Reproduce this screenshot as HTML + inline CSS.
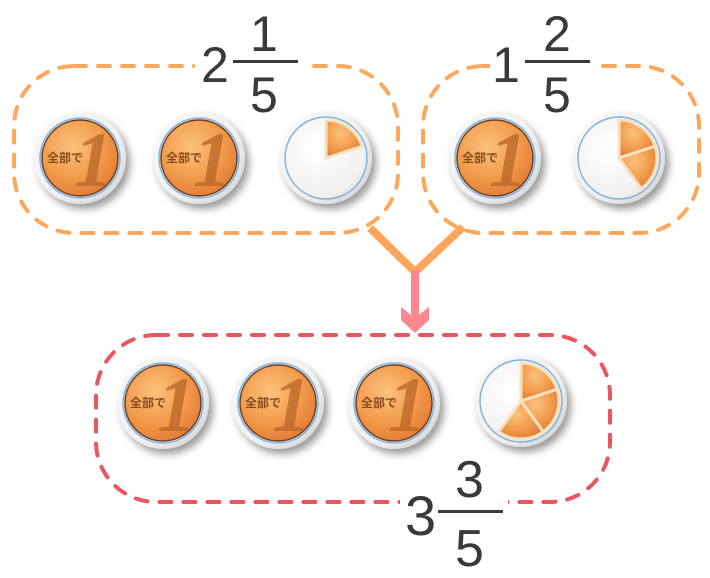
<!DOCTYPE html>
<html><head><meta charset="utf-8"><style>
html,body{margin:0;padding:0;background:#fff;}
svg{display:block;}
.n{font-family:"Liberation Sans","DejaVu Sans",sans-serif;fill:#3a3a3a;font-size:50px;}
.k{font-family:"Liberation Sans","Noto Sans CJK JP",sans-serif;fill:#8a4a1e;font-size:12px;font-weight:bold;}
.b{font-family:"Liberation Serif",serif;font-style:italic;font-weight:bold;fill:#b8662a;font-size:78px;opacity:.75;}
</style></head><body>
<svg width="710" height="578" viewBox="0 0 710 578" xmlns="http://www.w3.org/2000/svg">
<defs>
<radialGradient id="og" cx="40%" cy="35%" r="70%"><stop offset="0" stop-color="#fbc27e"/><stop offset=".6" stop-color="#f29a4a"/><stop offset="1" stop-color="#e07a34"/></radialGradient>
<radialGradient id="pg" cx="40%" cy="40%" r="65%"><stop offset="0" stop-color="#fff"/><stop offset=".8" stop-color="#f1f1f1"/><stop offset="1" stop-color="#d5d5d5"/></radialGradient>
<filter id="sh" x="-30%" y="-30%" width="170%" height="170%"><feDropShadow dx="4" dy="5" stdDeviation="4" flood-color="#000" flood-opacity=".4"/></filter>
</defs>

<rect x="14" y="66" width="384" height="167" rx="60" fill="none" stroke="#fca75c" stroke-width="4" stroke-dasharray="12 12" stroke-linecap="round"/>
<rect x="423" y="66" width="276" height="167" rx="60" fill="none" stroke="#fca75c" stroke-width="4" stroke-dasharray="12 12" stroke-linecap="round"/>
<rect x="96" y="335" width="514" height="167" rx="60" fill="none" stroke="#e95660" stroke-width="4" stroke-dasharray="12 12" stroke-linecap="round"/>

<rect x="195" y="55" width="110" height="20" fill="#fff"/>
<rect x="490" y="55" width="105" height="20" fill="#fff"/>
<rect x="400" y="492" width="108" height="20" fill="#fff"/>

<text class="n" x="201" y="82">2</text>
<text class="n" x="250" y="51">1</text>
<rect x="233" y="60" width="65" height="3" fill="#3a3a3a"/>
<text class="n" x="250" y="112">5</text>

<text class="n" x="492" y="82">1</text>
<text class="n" x="543" y="51">2</text>
<rect x="525" y="60" width="65" height="3" fill="#3a3a3a"/>
<text class="n" x="543" y="112">5</text>

<text class="n" x="405" y="535" style="font-size:56px">3</text>
<text class="n" x="455" y="497" style="font-size:52px">3</text>
<rect x="438" y="510" width="65" height="3" fill="#3a3a3a"/>
<text class="n" x="455" y="566" style="font-size:52px">5</text>

<path d="M370 228 L415 272 L463 227" fill="none" stroke="#fda55a" stroke-width="8"/>
<line x1="415" y1="270" x2="415" y2="318" stroke="#ff8890" stroke-width="8"/>
<path d="M401 307 L415 318 L429 307 L429 320 L415 333 L401 320Z" fill="#ff8890"/>

<g transform="translate(80,158)"><circle r="46" fill="url(#pg)" filter="url(#sh)"/><circle r="40" fill="none" stroke="#7fb3e0" stroke-width="1.5"/><circle r="38" fill="url(#og)" stroke="#6a3a20" stroke-width="1.5"/><text class="b" x="-6" y="28">1</text><text class="k" x="-33" y="4">全部で</text></g>
<g transform="translate(199,158)"><circle r="46" fill="url(#pg)" filter="url(#sh)"/><circle r="40" fill="none" stroke="#7fb3e0" stroke-width="1.5"/><circle r="38" fill="url(#og)" stroke="#6a3a20" stroke-width="1.5"/><text class="b" x="-6" y="28">1</text><text class="k" x="-33" y="4">全部で</text></g>
<g transform="translate(495,158)"><circle r="46" fill="url(#pg)" filter="url(#sh)"/><circle r="40" fill="none" stroke="#7fb3e0" stroke-width="1.5"/><circle r="38" fill="url(#og)" stroke="#6a3a20" stroke-width="1.5"/><text class="b" x="-6" y="28">1</text><text class="k" x="-33" y="4">全部で</text></g>
<g transform="translate(163,403)"><circle r="46" fill="url(#pg)" filter="url(#sh)"/><circle r="40" fill="none" stroke="#7fb3e0" stroke-width="1.5"/><circle r="38" fill="url(#og)" stroke="#6a3a20" stroke-width="1.5"/><text class="b" x="-6" y="28">1</text><text class="k" x="-33" y="4">全部で</text></g>
<g transform="translate(278,403)"><circle r="46" fill="url(#pg)" filter="url(#sh)"/><circle r="40" fill="none" stroke="#7fb3e0" stroke-width="1.5"/><circle r="38" fill="url(#og)" stroke="#6a3a20" stroke-width="1.5"/><text class="b" x="-6" y="28">1</text><text class="k" x="-33" y="4">全部で</text></g>
<g transform="translate(394,403)"><circle r="46" fill="url(#pg)" filter="url(#sh)"/><circle r="40" fill="none" stroke="#7fb3e0" stroke-width="1.5"/><circle r="38" fill="url(#og)" stroke="#6a3a20" stroke-width="1.5"/><text class="b" x="-6" y="28">1</text><text class="k" x="-33" y="4">全部で</text></g>

<g transform="translate(326,158)"><circle r="46" fill="url(#pg)" filter="url(#sh)"/><circle r="41" fill="none" stroke="#7fb3e0" stroke-width="1.5"/>
<path d="M0 0 L0 -38 A38 38 0 0 1 36.1 -11.7Z" fill="url(#og)" stroke="#f4e2c0" stroke-width="3" stroke-linejoin="round"/></g>
<g transform="translate(619,158)"><circle r="46" fill="url(#pg)" filter="url(#sh)"/><circle r="41" fill="none" stroke="#7fb3e0" stroke-width="1.5"/>
<path d="M0 0 L0 -38 A38 38 0 0 1 36.1 -11.7Z" fill="url(#og)" stroke="#f4e2c0" stroke-width="3" stroke-linejoin="round"/>
<path d="M0 0 L36.1 -11.7 A38 38 0 0 1 22.3 30.7Z" fill="url(#og)" stroke="#f4e2c0" stroke-width="3" stroke-linejoin="round"/></g>
<g transform="translate(521,401)"><circle r="46" fill="url(#pg)" filter="url(#sh)"/><circle r="41" fill="none" stroke="#7fb3e0" stroke-width="1.5"/>
<path d="M0 0 L0 -38 A38 38 0 0 1 36.1 -11.7Z" fill="url(#og)" stroke="#f4e2c0" stroke-width="3" stroke-linejoin="round"/>
<path d="M0 0 L36.1 -11.7 A38 38 0 0 1 22.3 30.7Z" fill="url(#og)" stroke="#f4e2c0" stroke-width="3" stroke-linejoin="round"/>
<path d="M0 0 L22.3 30.7 A38 38 0 0 1 -22.3 30.7Z" fill="url(#og)" stroke="#f4e2c0" stroke-width="3" stroke-linejoin="round"/></g>
</svg>
</body></html>
